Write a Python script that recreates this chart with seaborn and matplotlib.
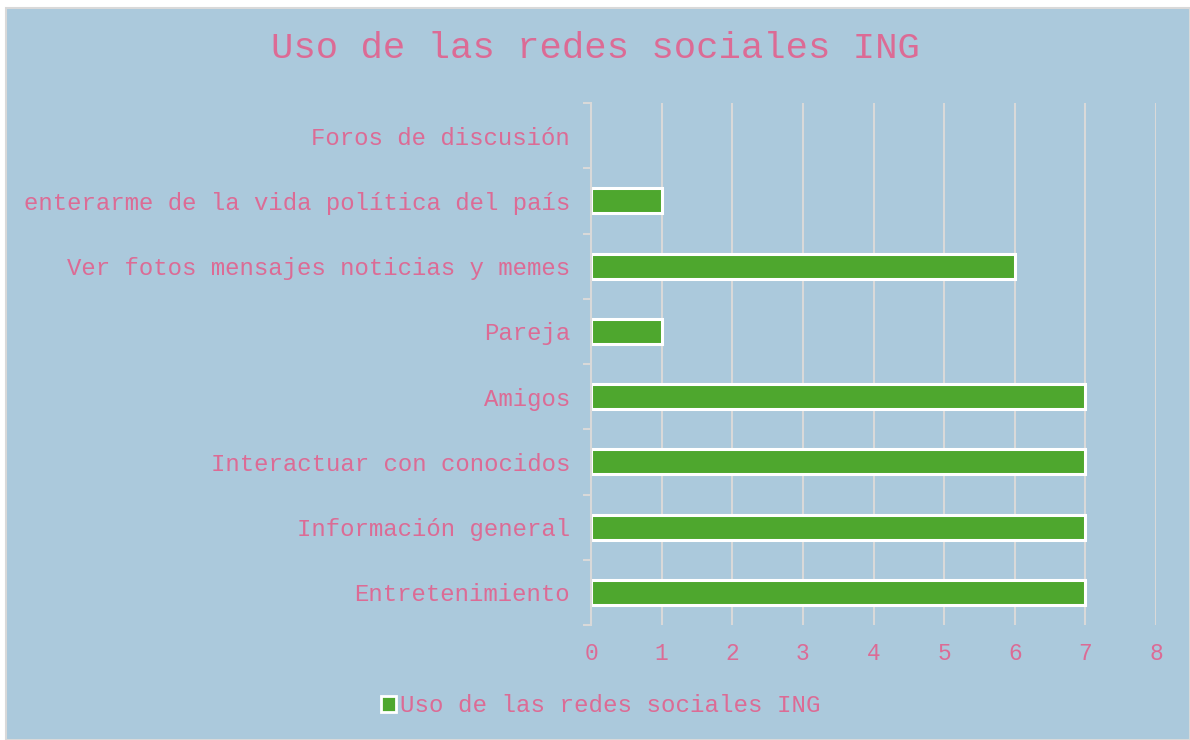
import matplotlib
matplotlib.use("Agg")
import matplotlib.pyplot as plt
import matplotlib.patches as mpatches
import seaborn as sns
import pandas as pd
import numpy as np

categorias = ["Foros de discusión",
              "enterarme de la vida política del país",
              "Ver fotos mensajes noticias y memes",
              "Pareja",
              "Amigos",
              "Interactuar con conocidos",
              "Información general",
              "Entretenimiento"]
valores = [0, 1, 6, 1, 7, 7, 7, 7]
serie = "Uso de las redes sociales ING"
ticks_x = [0, 1, 2, 3, 4, 5, 6, 7, 8]

fondo = "#abc9dc"
rosa = "#dc6b95"
verde = "#4ea72e"
gris = "#d9d9d9"

sns.set_style("white")
plt.rcParams['font.family'] = ['Liberation Mono', 'DejaVu Sans Mono']

df = pd.DataFrame({"categoria": categorias, "valor": valores})

fig = plt.figure(figsize=(11.9, 7.4), dpi=100)
fig.patch.set_facecolor("white")
fig.patches.append(mpatches.Rectangle((6/1190, 0), 1 - 6/1190, 1 - 8/740,
                                      transform=fig.transFigure,
                                      facecolor=fondo, edgecolor=gris,
                                      linewidth=1.5, zorder=-10))

ax = fig.add_axes([591/1190, 1 - 625/740, (1156 - 591)/1190, (625 - 103)/740])
ax.set_facecolor("none")

sns.barplot(data=df, x="valor", y="categoria", orient="h", color=verde,
            width=0.38, edgecolor="white", linewidth=2.2, saturation=1,
            ax=ax, zorder=3)
# las barras de valor 0 no se dibujan
for p in ax.patches:
    if p.get_width() == 0:
        p.set_visible(False)

ax.set_xlim(0, 8)
ax.set_ylim(len(categorias) - 0.5, -0.5)
ax.set_xticks(ticks_x)
ax.set_xticklabels([str(t) for t in ticks_x])
ax.set_xlabel("")
ax.set_ylabel("")
ax.grid(axis="x", color=gris, linewidth=1.5, zorder=0)
ax.set_axisbelow(True)

for s in ["top", "right", "bottom"]:
    ax.spines[s].set_visible(False)
ax.spines["left"].set_color(gris)
ax.spines["left"].set_linewidth(1.5)
ax.spines["left"].set_zorder(4)

ax.tick_params(axis="x", length=0, pad=12, labelcolor=rosa, labelsize=16.5)
ax.tick_params(axis="y", which="major", left=False, length=0, pad=15,
               labelcolor=rosa, labelsize=17.3)
ax.set_yticks(np.arange(-0.5, len(categorias), 1), minor=True)
ax.tick_params(axis="y", which="minor", left=True, length=6, width=1.5, color=gris)

fig.text(0.5, 1 - 48/740, serie, ha="center", va="center", color=rosa, fontsize=26.8)

handle = mpatches.Patch(facecolor=verde, edgecolor="white", linewidth=2, label=serie)
leg = fig.legend(handles=[handle], loc="center", bbox_to_anchor=(0.505, 1 - 706/740),
                 frameon=False, fontsize=17.4, handlelength=0.6, handleheight=0.6,
                 handletextpad=0.2)
for t in leg.get_texts():
    t.set_color(rosa)

fig.savefig("out.png", dpi=100, facecolor=fig.get_facecolor())
